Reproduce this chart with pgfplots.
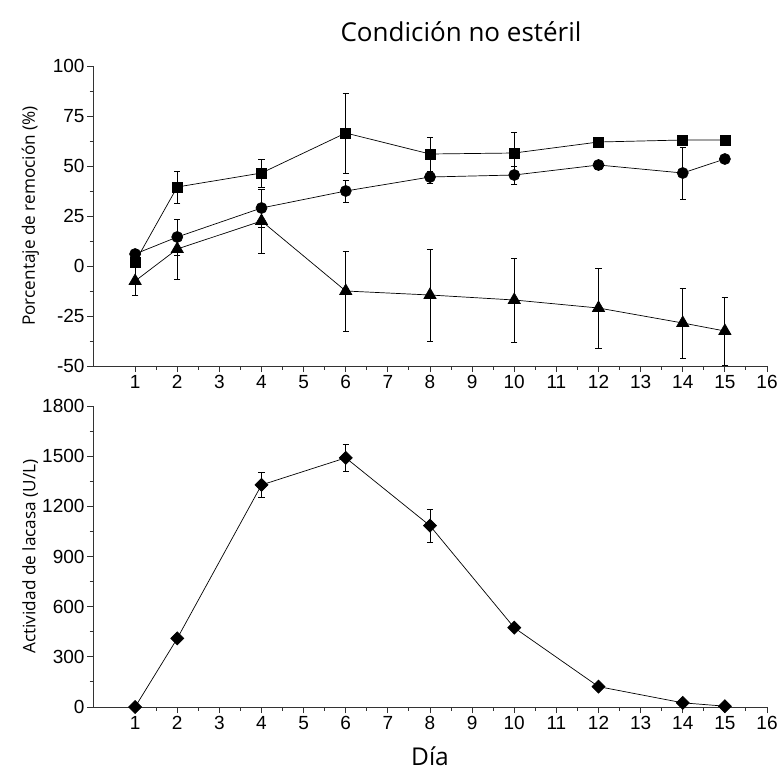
\documentclass[border=0pt]{standalone}
\usepackage{pgfplots}
\pgfplotsset{compat=1.18}
\usepackage{fontspec}
\setmainfont{Liberation Sans}
\newfontfamily\labfont{Open Sans}
\begin{document}
\begin{tikzpicture}
\path[use as bounding box] (0pt,0pt) rectangle (780pt,-777pt);
\pgfplotsset{
  every axis/.append style={
    scale only axis, width=674pt, xmin=0, xmax=16,
    axis lines=left, axis line style={-, line width=0.9pt, black!80},
    tick align=outside, tick style={line width=0.9pt, black!80},
    major tick length=6pt, minor tick length=3.5pt,
    xtick={1,...,16}, minor x tick num=1, minor y tick num=1,
    tick label style={font=\fontsize{19}{21}\selectfont},
    yticklabel style={xshift=1pt},
    /pgf/number format/assume math mode=true,
    /pgf/number format/1000 sep={},
    clip=false,
    every axis y label/.style={at={(axis description cs:-0.093,0.5)}, rotate=90, anchor=center, font=\labfont\fontsize{17.2}{19}\selectfont},
    error bars/error bar style={line width=0.8pt, black},
    error bars/error mark options={rotate=90, mark size=3.2pt, line width=0.8pt, black},
  },
}
\node[font=\labfont\fontsize{26}{29}\selectfont] at (461pt,-32pt) {Condición no estéril};
\begin{axis}[at={(93pt,-366pt)}, anchor=south west, height=300pt,
  ymin=-50, ymax=100, ytick={-50,-25,0,25,50,75,100},
  ylabel={Porcentaje de remoción (\%)}]
\addplot[black, line width=0.7pt, mark=square*, mark size=5pt, mark options={black}, error bars/.cd, y dir=both, y explicit]
coordinates {(1,2) +- (0,2.5) (2,39.5) +- (0,8) (4,46.5) +- (0,7) (6,66.5) +- (0,20) (8,56) +- (0,8.5) (10,56.5) +- (0,10.5) (12,62) +- (0,2) (14,63) +- (0,2) (15,63) +- (0,0)};
\addplot[black, line width=0.7pt, mark=*, mark size=5.5pt, mark options={black}, error bars/.cd, y dir=both, y explicit]
coordinates {(1,6) +- (0,2) (2,14.5) +- (0,9) (4,29) +- (0,9.5) (6,37.5) +- (0,5.5) (8,44.5) +- (0,3) (10,45.5) +- (0,4.5) (12,50.5) +- (0,2) (14,46.5) +- (0,13) (15,53.5) +- (0,0)};
\addplot[black, line width=0.7pt, mark=triangle*, mark size=7pt, mark options={black}, error bars/.cd, y dir=both, y explicit]
coordinates {(1,-7.5) +- (0,7) (2,8.5) +- (0,15) (4,22.5) +- (0,16) (6,-12.5) +- (0,20) (8,-14.5) +- (0,23) (10,-17) +- (0,21) (12,-21) +- (0,20) (14,-28.5) +- (0,17.5) (15,-32.5) +- (0,17)};
\end{axis}
\begin{axis}[at={(93pt,-707pt)}, anchor=south west, height=301pt,
  ymin=0, ymax=1800, ytick={0,300,...,1800},
  ylabel={Actividad de lacasa (U/L)},
  xlabel={Día}, xlabel style={font=\labfont\fontsize{24.5}{27}\selectfont, yshift=-10pt}]
\addplot[black, line width=0.7pt, mark=square*, mark size=4.6pt, mark options={black, rotate=45}, error bars/.cd, y dir=both, y explicit]
coordinates {(1,0) +- (0,0) (2,410) +- (0,0) (4,1328) +- (0,75) (6,1490) +- (0,82) (8,1084) +- (0,98) (10,474) +- (0,0) (12,122) +- (0,0) (14,25) +- (0,0) (15,5) +- (0,0)};
\end{axis}
\end{tikzpicture}
\end{document}
